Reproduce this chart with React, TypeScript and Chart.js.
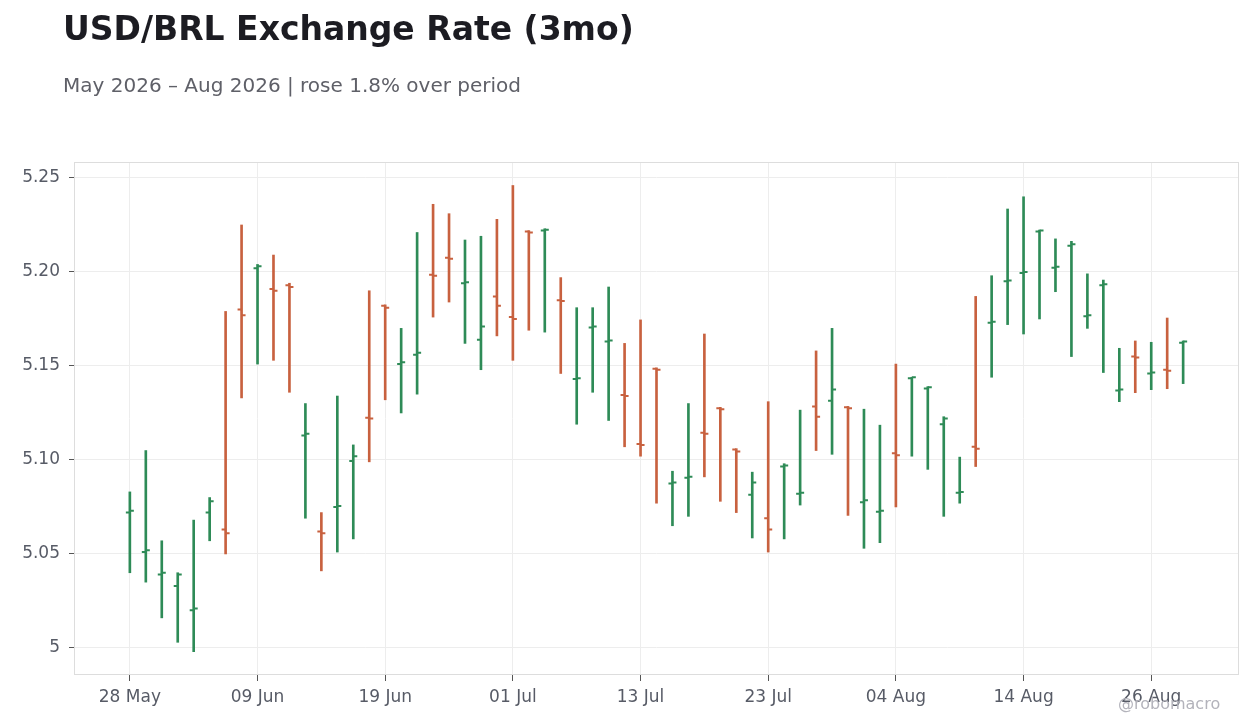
// USD/BRL OHLC chart, 3 months of business days
import { useEffect, useRef } from 'react';
import { Chart, registerables } from 'chart.js';
import type { Plugin } from 'chart.js';

Chart.register(...registerables);

// ---- Data ----
const DATES = [
  '28 May', '29 May',
  '01 Jun', '02 Jun', '03 Jun', '04 Jun', '05 Jun',
  '08 Jun', '09 Jun', '10 Jun', '11 Jun', '12 Jun',
  '15 Jun', '16 Jun', '17 Jun', '18 Jun', '19 Jun',
  '22 Jun', '23 Jun', '24 Jun', '25 Jun', '26 Jun',
  '29 Jun', '30 Jun', '01 Jul', '02 Jul', '03 Jul',
  '06 Jul', '07 Jul', '08 Jul', '09 Jul', '10 Jul',
  '13 Jul', '14 Jul', '15 Jul', '16 Jul', '17 Jul',
  '20 Jul', '21 Jul', '22 Jul', '23 Jul', '24 Jul',
  '27 Jul', '28 Jul', '29 Jul', '30 Jul', '31 Jul',
  '03 Aug', '04 Aug', '05 Aug', '06 Aug', '07 Aug',
  '10 Aug', '11 Aug', '12 Aug', '13 Aug', '14 Aug',
  '17 Aug', '18 Aug', '19 Aug', '20 Aug', '21 Aug',
  '24 Aug', '25 Aug', '26 Aug', '27 Aug', '28 Aug',
];

const OPEN = [
  5.072, 5.051,
  5.039, 5.033, 5.020, 5.072, 5.063,
  5.180, 5.202, 5.191, 5.193, 5.113,
  5.062, 5.075, 5.0995, 5.1225, 5.182,
  5.151, 5.156, 5.1985, 5.2075, 5.194,
  5.164, 5.187, 5.176, 5.2215, 5.222,
  5.185, 5.143, 5.1705, 5.163, 5.1345,
  5.1085, 5.1485, 5.0875, 5.0905, 5.1145,
  5.1275, 5.1055, 5.0815, 5.069, 5.0965,
  5.082, 5.1285, 5.1315, 5.128, 5.0775,
  5.0725, 5.1035, 5.1435, 5.138, 5.119,
  5.0825, 5.107, 5.173, 5.195, 5.1995,
  5.2215, 5.2023, 5.214, 5.1765, 5.193,
  5.137, 5.155, 5.146, 5.148, 5.1624,
];

const HIGH = [
  5.083, 5.105,
  5.057, 5.040, 5.068, 5.080, 5.179,
  5.225, 5.204, 5.209, 5.194, 5.130,
  5.072, 5.134, 5.108, 5.190, 5.1825,
  5.170, 5.221, 5.236, 5.231, 5.217,
  5.219, 5.228, 5.246, 5.222, 5.223,
  5.197, 5.181, 5.181, 5.192, 5.162,
  5.1745, 5.149, 5.094, 5.130, 5.167,
  5.128, 5.106, 5.0935, 5.131, 5.098,
  5.1265, 5.158, 5.170, 5.1285, 5.127,
  5.1185, 5.151, 5.144, 5.139, 5.123,
  5.1015, 5.187, 5.198, 5.2335, 5.240,
  5.2223, 5.2176, 5.2163, 5.199, 5.1957,
  5.1594, 5.1633, 5.1626, 5.1755, 5.1633,
];

const LOW = [
  5.040, 5.035,
  5.016, 5.003, 4.998, 5.057, 5.050,
  5.133, 5.151, 5.153, 5.136, 5.069,
  5.041, 5.051, 5.058, 5.099, 5.132,
  5.125, 5.135, 5.176, 5.184, 5.162,
  5.148, 5.166, 5.153, 5.169, 5.168,
  5.146, 5.119, 5.136, 5.121, 5.107,
  5.102, 5.077, 5.065, 5.070, 5.091,
  5.078, 5.072, 5.0585, 5.051, 5.058,
  5.076, 5.105, 5.103, 5.0705, 5.053,
  5.056, 5.075, 5.102, 5.095, 5.070,
  5.077, 5.0965, 5.144, 5.172, 5.167,
  5.175, 5.1895, 5.155, 5.170, 5.1465,
  5.131, 5.1358, 5.1374, 5.1379, 5.1406,
];

const CLOSE = [
  5.073, 5.052,
  5.040, 5.039, 5.021, 5.078, 5.061,
  5.177, 5.203, 5.190, 5.192, 5.114,
  5.061, 5.0755, 5.102, 5.122, 5.181,
  5.152, 5.157, 5.198, 5.207, 5.1945,
  5.171, 5.182, 5.175, 5.221, 5.2225,
  5.1845, 5.1435, 5.171, 5.1635, 5.134,
  5.108, 5.148, 5.088, 5.091, 5.114,
  5.127, 5.1045, 5.088, 5.063, 5.097,
  5.0825, 5.123, 5.1375, 5.1275, 5.0785,
  5.073, 5.1025, 5.144, 5.1387, 5.122,
  5.083, 5.106, 5.1735, 5.1955, 5.200,
  5.222, 5.2028, 5.2147, 5.177, 5.1935,
  5.1375, 5.1545, 5.1465, 5.1475, 5.163,
];

const X_TICK_LABELS = ['28 May', '09 Jun', '19 Jun', '01 Jul', '13 Jul', '23 Jul', '04 Aug', '14 Aug', '26 Aug'];
const Y_TICKS = [5, 5.05, 5.1, 5.15, 5.2, 5.25];
const Y_TICK_LABELS = ['5', '5.05', '5.10', '5.15', '5.20', '5.25'];

// ---- Styles ----
const UP = '#2e8b57';
const DOWN = '#c8613f';
const FONT = "'DejaVu Sans', sans-serif";
const TICK_W = 3;

const colorOf = (i: number) => (CLOSE[i] >= OPEN[i] ? UP : DOWN);

// open (left) / close (right) ticks + plot frame
const ohlcTicks: Plugin<'bar'> = {
  id: 'ohlcTicks',
  afterDatasetsDraw(chart) {
    const { ctx, scales, chartArea } = chart;
    const x = scales.x;
    const y = scales.y;
    ctx.save();
    ctx.lineWidth = 2;
    OPEN.forEach((o, i) => {
      const px = x.getPixelForValue(i);
      ctx.strokeStyle = colorOf(i);
      ctx.beginPath();
      ctx.moveTo(px - 1 - TICK_W, y.getPixelForValue(o));
      ctx.lineTo(px, y.getPixelForValue(o));
      ctx.moveTo(px, y.getPixelForValue(CLOSE[i]));
      ctx.lineTo(px + 1 + TICK_W, y.getPixelForValue(CLOSE[i]));
      ctx.stroke();
    });
    ctx.strokeStyle = '#dddddd';
    ctx.lineWidth = 1;
    ctx.strokeRect(chartArea.left + 0.5, chartArea.top + 0.5, chartArea.width - 1, chartArea.height - 1);
    ctx.restore();
  },
};

function OhlcChart() {
  const canvasRef = useRef<HTMLCanvasElement>(null);
  const chartRef = useRef<Chart | null>(null);

  useEffect(() => {
    if (!canvasRef.current) return;
    chartRef.current?.destroy();
    chartRef.current = new Chart(canvasRef.current, {
      type: 'bar',
      data: {
        datasets: [{
          label: 'USD/BRL',
          data: DATES.map((_, i) => ({ x: i, y: [LOW[i], HIGH[i]] })) as any,
          backgroundColor: DATES.map((_, i) => colorOf(i)),
          borderWidth: 0,
          barThickness: 2,
        }],
      },
      options: {
        responsive: false,
        animation: false,
        devicePixelRatio: 1,
        layout: { padding: { top: 162, right: 21, left: 0, bottom: 0 } },
        plugins: {
          legend: { display: false },
          tooltip: { enabled: false },
        },
        scales: {
          x: {
            type: 'linear',
            offset: false,
            min: -3.5,
            max: DATES.length + 2.5,
            afterFit: (s) => { s.height = 53; },
            afterBuildTicks: (s) => {
              s.ticks = X_TICK_LABELS.map(l => ({ value: DATES.indexOf(l) }));
            },
            ticks: {
              callback: (v) => DATES[Number(v)] ?? '',
              color: '#575b66',
              font: { family: FONT, size: 17 },
              padding: 6,
              maxRotation: 0,
              autoSkip: false,
            },
            grid: { offset: false, color: '#ededed', tickColor: '#555555', tickLength: 6 },
            border: { display: false },
          },
          y: {
            type: 'linear',
            min: 4.9856,
            max: 5.2585,
            afterFit: (s) => { s.width = 74; },
            afterBuildTicks: (s) => {
              s.ticks = Y_TICKS.map(v => ({ value: v }));
            },
            ticks: {
              callback: (_v, i) => Y_TICK_LABELS[i],
              color: '#575b66',
              font: { family: FONT, size: 17 },
              padding: 9,
              autoSkip: false,
            },
            grid: { color: '#ededed', tickColor: '#555555', tickLength: 5 },
            border: { display: false },
          },
        },
      },
      plugins: [ohlcTicks],
    });
    return () => { chartRef.current?.destroy(); };
  }, []);

  return <canvas ref={canvasRef} width={1260} height={728} style={{ position: 'absolute', left: 0, top: 0 }} />;
}

export default function App() {
  useEffect(() => {
    document.body.style.margin = '0';
  }, []);

  return (
    <div style={{ position: 'relative', width: 1260, height: 728, background: '#fff', fontFamily: FONT, overflow: 'hidden' }}>
      <OhlcChart />
      <div style={{ position: 'absolute', left: 63, top: 12, fontSize: 33, lineHeight: '33px', fontWeight: 'bold', color: '#1c1c22', whiteSpace: 'nowrap' }}>
        USD/BRL Exchange Rate (3mo)
      </div>
      <div style={{ position: 'absolute', left: 63, top: 75, fontSize: 20, lineHeight: '20px', color: '#5f6068', whiteSpace: 'nowrap' }}>
        May 2026 – Aug 2026 | rose 1.8% over period
      </div>
      <div style={{ position: 'absolute', left: 1118, top: 696, fontSize: 16, lineHeight: '16px', color: '#b3b3bb', whiteSpace: 'nowrap' }}>
        @robomacro
      </div>
    </div>
  );
}
